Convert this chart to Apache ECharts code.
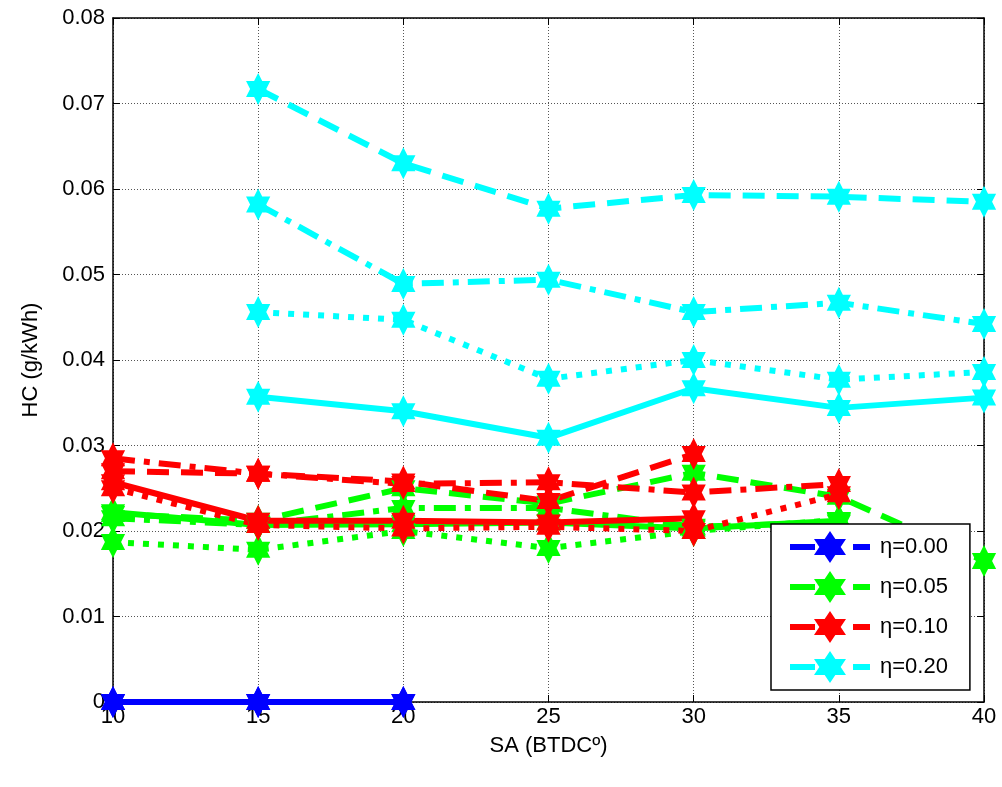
<!DOCTYPE html>
<html>
<head>
<meta charset="utf-8">
<script src="https://cdn.jsdelivr.net/npm/echarts@6/dist/echarts.min.js"></script>
<style>
  html, body { margin: 0; padding: 0; background: #fff; }
  #container { width: 1002px; height: 787px; }
</style>
</head>
<body>
<div id="container"></div>
<script>
// SA values (x axis)
var saValues = [10, 15, 20, 25, 30, 35, 40];
var yTicks = [0, 0.01, 0.02, 0.03, 0.04, 0.05, 0.06, 0.07, 0.08];

// eta = 0.00
var blueSolid  = [0, 0, 0, null, null, null, null];
var blueDashed = [0, 0, 0, null, null, null, null];

// eta = 0.05
var greenSolid   = [0.0222, 0.0207, 0.0208, 0.0210, 0.0203, 0.0212, null];
var greenDashed  = [0.0220, 0.0212, 0.0250, 0.0232, 0.0268, 0.0240, 0.0165];
var greenDashDot = [0.0215, 0.0207, 0.0227, 0.0227, 0.0205, 0.0210, null];
var greenDotted  = [0.0187, 0.0178, 0.0200, 0.0180, 0.0200, 0.0213, null];

// eta = 0.10
var redSolid   = [0.0257, 0.0212, 0.0212, 0.0210, 0.0215, null, null];
var redDashed  = [0.0270, 0.0267, 0.0258, 0.0235, 0.0290, null, null];
var redDashDot = [0.0285, 0.0267, 0.0255, 0.0257, 0.0245, 0.0255, null];
var redDotted  = [0.0250, 0.0207, 0.0203, 0.0205, 0.0200, 0.0243, null];

// eta = 0.20
var cyanSolid   = [null, 0.0357, 0.0340, 0.0309, 0.0367, 0.0344, 0.0356];
var cyanDashed  = [null, 0.0717, 0.0630, 0.0577, 0.0593, 0.0591, 0.0585];
var cyanDashDot = [null, 0.0582, 0.0489, 0.0494, 0.0456, 0.0467, 0.0442];
var cyanDotted  = [null, 0.0456, 0.0447, 0.0378, 0.0400, 0.0377, 0.0386];

var hexagram = 'path://M50 0 L64.43 25 L93.3 25 L78.87 50 L93.3 75 L64.43 75 L50 100 L35.57 75 L6.7 75 L21.13 50 L6.7 25 L35.57 25 Z';

var styles = {
    solid: 'solid',
    dashed: [22, 12],
    dashdot: [22, 9, 6, 9],
    dotted: [6, 9]
};

function pairs(arr){
    var out = [];
    for (var i = 0; i < arr.length; i++) {
        if (arr[i] !== null) out.push([saValues[i], arr[i]]);
    }
    return out;
}

function mk(name, color, style, arr){
    return {
        name: name,
        type: 'line',
        data: pairs(arr),
        symbol: hexagram,
        symbolSize: [28, 32],
        symbolKeepAspect: true,
        showAllSymbol: true,
        lineStyle: { color: color, width: 6, type: styles[style], cap: 'butt' },
        itemStyle: { color: color },
        emphasis: { disabled: true },
        animation: false
    };
}

var series = [
    mk('b-solid', '#0000ff', 'solid', blueSolid),
    mk('η=0.00', '#0000ff', 'dashed', blueDashed),
    mk('g-solid', '#00ff00', 'solid', greenSolid),
    mk('g-dashdot', '#00ff00', 'dashdot', greenDashDot),
    mk('g-dotted', '#00ff00', 'dotted', greenDotted),
    mk('η=0.05', '#00ff00', 'dashed', greenDashed),
    mk('r-solid', '#ff0000', 'solid', redSolid),
    mk('r-dashdot', '#ff0000', 'dashdot', redDashDot),
    mk('r-dotted', '#ff0000', 'dotted', redDotted),
    mk('η=0.10', '#ff0000', 'dashed', redDashed),
    mk('c-solid', '#00ffff', 'solid', cyanSolid),
    mk('c-dashdot', '#00ffff', 'dashdot', cyanDashDot),
    mk('c-dotted', '#00ffff', 'dotted', cyanDotted),
    mk('η=0.20', '#00ffff', 'dashed', cyanDashed)
];

var font = 'Liberation Sans, Arial, sans-serif';

var dom = document.getElementById('container');
var myChart = echarts.init(dom);
var option = {
    animation: false,
    backgroundColor: '#fff',
    grid: { left: 113, right: 18, top: 18, bottom: 85, show: false },
    legend: {
        data: ['η=0.00', 'η=0.05', 'η=0.10', 'η=0.20'],
        orient: 'vertical',
        left: 771,
        top: 524,
        itemWidth: 80,
        itemHeight: 40,
        itemGap: 8,
        padding: [7, 22, 7, 16],
        backgroundColor: '#fff',
        borderColor: '#000',
        borderWidth: 1.5,
        borderRadius: 0,
        selectedMode: false,
        lineStyle: { width: 6, type: [25, 38, 20, 10], cap: 'butt' },
        itemStyle: { borderWidth: 0 },
        textStyle: { fontFamily: font, fontSize: 22, color: '#000', padding: [0, 0, 0, 5] }
    },
    xAxis: [{
        type: 'value',
        min: 10, max: 40, interval: 5,
        name: 'SA (BTDCº)',
        nameLocation: 'middle',
        nameGap: 33,
        nameTextStyle: { fontFamily: font, fontSize: 22, color: '#000' },
        axisLine: { lineStyle: { color: '#000', width: 1.5 } },
        axisTick: { inside: true, length: 7, lineStyle: { color: '#000' } },
        axisLabel: { fontFamily: font, fontSize: 22, color: '#000', margin: 4 },
        splitLine: { show: true, lineStyle: { color: '#555', type: [1, 2], width: 1 } }
    }, {
        type: 'value', position: 'top',
        min: 10, max: 40, interval: 5,
        axisLine: { show: true, onZero: false, lineStyle: { color: '#000', width: 1.5 } },
        axisTick: { show: true, inside: true, length: 7, lineStyle: { color: '#000' } },
        axisLabel: { show: false },
        splitLine: { show: false }
    }],
    yAxis: [{
        type: 'value',
        min: 0, max: 0.08, interval: 0.01,
        name: 'HC (g/kWh)',
        nameLocation: 'middle',
        nameGap: 71,
        nameTextStyle: { fontFamily: font, fontSize: 22, color: '#000' },
        axisLine: { show: true, lineStyle: { color: '#000', width: 1.5 } },
        axisTick: { show: true, inside: true, length: 7, lineStyle: { color: '#000' } },
        axisLabel: {
            fontFamily: font, fontSize: 22, color: '#000', margin: 8,
            formatter: function(v){ return v === 0 ? '0' : v.toFixed(2); }
        },
        splitLine: { show: true, lineStyle: { color: '#555', type: [1, 2], width: 1 } }
    }, {
        type: 'value', position: 'right',
        min: 0, max: 0.08, interval: 0.01,
        axisLine: { show: true, onZero: false, lineStyle: { color: '#000', width: 1.5 } },
        axisTick: { show: true, inside: true, length: 7, lineStyle: { color: '#000' } },
        axisLabel: { show: false },
        splitLine: { show: false }
    }],
    series: series
};
myChart.setOption(option);
</script>
</body>
</html>
